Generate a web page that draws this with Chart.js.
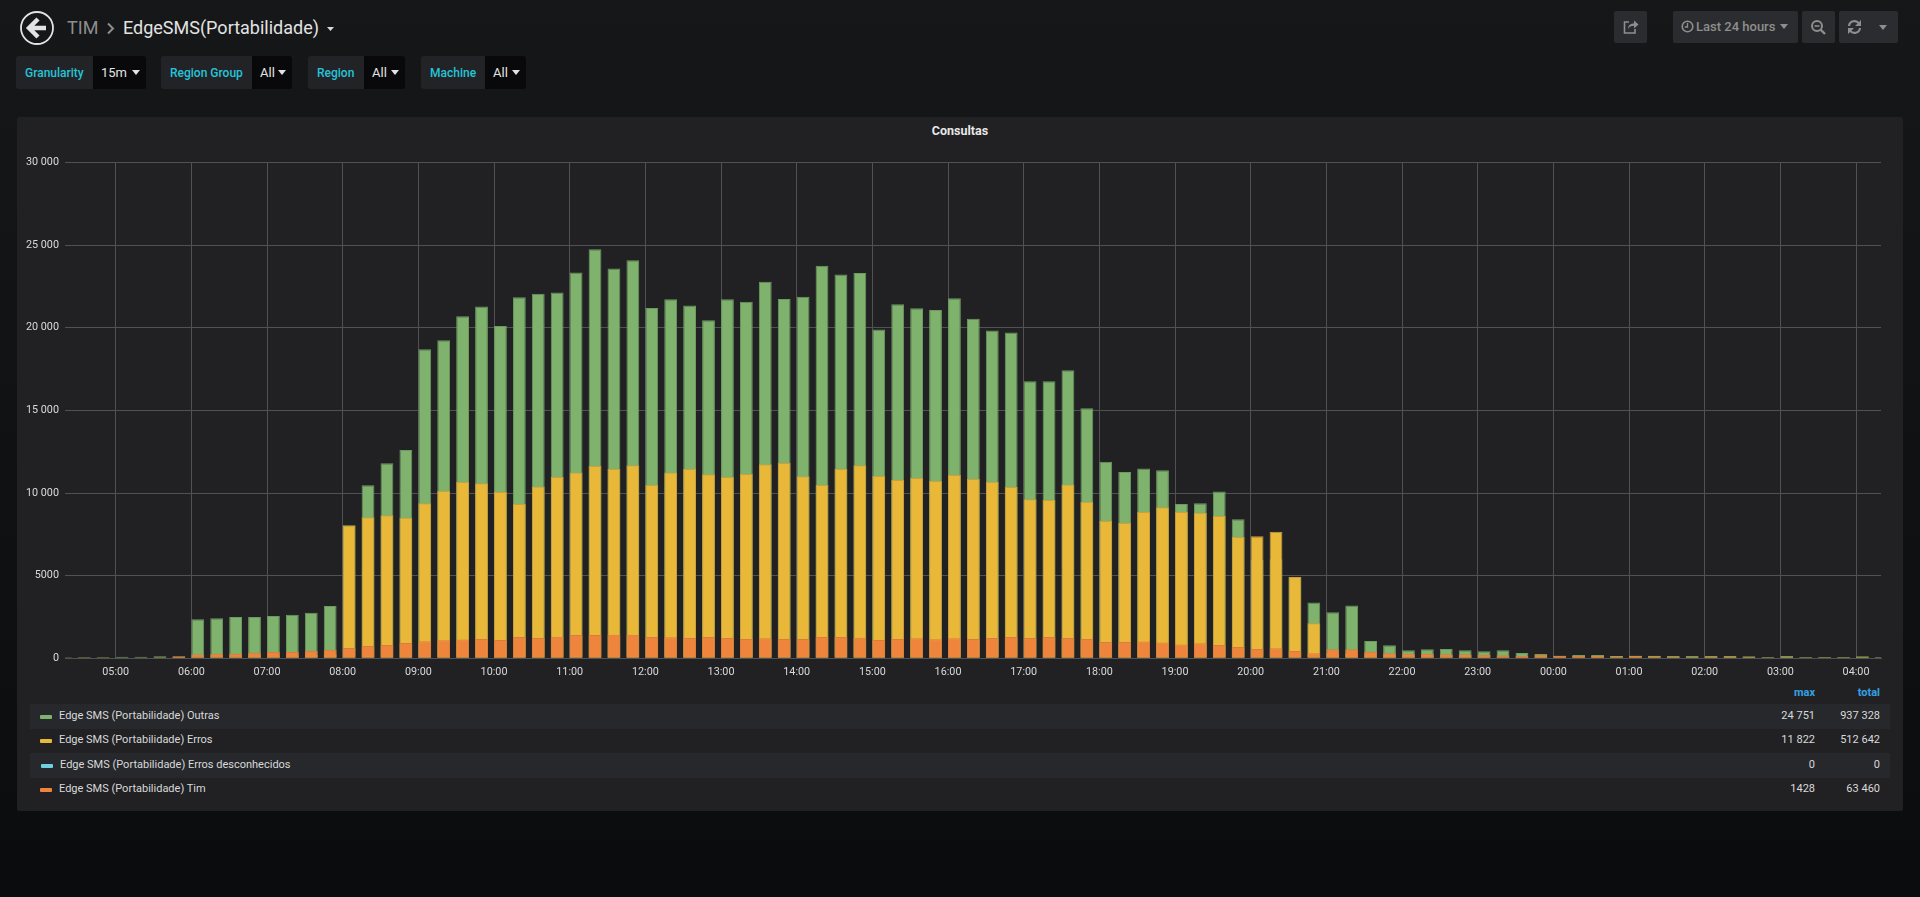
<!DOCTYPE html>
<html>
<head>
<meta charset="utf-8">
<title>EdgeSMS(Portabilidade)</title>
<script src="https://cdn.jsdelivr.net/npm/chart.js@4"></script>
<style>
html, body { margin: 0; height: 100%; overflow: hidden; }
body { position: relative; width: 1920px; height: 897px; background: linear-gradient(#161719, #0b0c0e); font-family: Roboto, sans-serif; color: #d8d9da; }
.abs { position: absolute; white-space: nowrap; }
.crumb { top: 16px; font-size: 18px; line-height: 24px; }
.btn { position: absolute; top: 11px; height: 32px; background: #2b2c2f; border-radius: 2px; }
.btn svg { position: absolute; }
.var { position: absolute; top: 56px; height: 33px; display: flex; font-size: 12px; line-height: 34px; border-radius: 3px; overflow: hidden; }
.var b { font-weight: 500; color: #27c4d8; background: #212327; padding-left: 9px; box-sizing: border-box; }
.var span { flex: 1; background: #09090b; color: #e3e3e3; padding-left: 8px; position: relative; font-size: 13px; }
.var span::after { content: ""; position: absolute; right: 6px; top: 14px; border: 4px solid transparent; border-top: 5px solid #e3e3e3; }
#panel { position: absolute; left: 17px; top: 117px; width: 1886px; height: 694px; background: #212124; border-radius: 2px; }
#panelTitle { position: absolute; left: 0; top: 6px; width: 1886px; text-align: center; font-size: 12.5px; font-weight: 700; line-height: 16px; color: #e8e8e8; }
#wrap { position: absolute; left: 0; top: 0; width: 1886px; height: 568px; }
.row { position: absolute; left: 13px; width: 1860px; height: 24.5px; font-size: 11px; line-height: 24px; }
.row.odd { background: #27282b; }
.row i { position: absolute; left: 10px; top: 11px; width: 12px; height: 4px; border-radius: 1px; }
.row .name { position: absolute; left: 29px; }
.row .max { position: absolute; right: 75px; }
.row .total { position: absolute; right: 10px; }
.lhead { font-size: 11px; font-weight: 700; color: #33a2e5; }
</style>
</head>
<body>
<svg class="abs" style="left:19px;top:11px" width="36" height="34" viewBox="0 0 36 34">
  <circle cx="18" cy="17" r="16" fill="none" stroke="#e3e3e3" stroke-width="1.8"/>
  <path d="M19 8 L10 17 L19 26 M11 17 H27" fill="none" stroke="#e3e3e3" stroke-width="4.4"/>
</svg>
<div class="abs crumb" style="left:67px;color:#8e8e8e">TIM</div>
<svg class="abs" style="left:106px;top:22px" width="9" height="13" viewBox="0 0 9 13"><path d="M2 1.5 L7 6.5 L2 11.5" fill="none" stroke="#8e8e8e" stroke-width="2"/></svg>
<div class="abs crumb" style="left:123px;color:#e3e3e3">EdgeSMS(Portabilidade)</div>
<svg class="abs" style="left:327px;top:27px" width="8" height="5"><path d="M0 0 H7 L3.5 4 Z" fill="#d8d9da"/></svg>

<div class="btn" style="left:1614px;width:33px">
  <svg style="left:9px;top:8px" width="16" height="16" viewBox="0 0 16 16"><path d="M6 3 H1.5 V14 H12 V10" fill="none" stroke="#8e8e8e" stroke-width="1.6"/><path d="M5 10 C5 6 8 4.5 11 4.5 V1.5 L15.5 5.5 L11 9.5 V6.8 C8 6.8 6 8 5 10 Z" fill="#8e8e8e"/></svg>
</div>
<div class="btn" style="left:1673px;width:125px;color:#8e8e8e;font-size:13px;font-weight:500;line-height:32px">
  <svg style="left:8px;top:9px" width="13" height="13" viewBox="0 0 13 13"><circle cx="6.5" cy="6.5" r="5.3" fill="none" stroke="#8e8e8e" stroke-width="1.6"/><path d="M6.5 3 V7 H3.8" fill="none" stroke="#8e8e8e" stroke-width="1.3"/></svg>
  <span style="position:absolute;left:23px">Last 24 hours</span>
  <svg style="left:107px;top:13px" width="9" height="6"><path d="M0 0 H8 L4 5 Z" fill="#8e8e8e"/></svg>
</div>
<div class="btn" style="left:1802px;width:33px">
  <svg style="left:8px;top:8px" width="17" height="17" viewBox="0 0 17 17"><circle cx="7" cy="7" r="5" fill="none" stroke="#8e8e8e" stroke-width="2"/><path d="M4.5 7 H9.5" stroke="#8e8e8e" stroke-width="1.6"/><path d="M10.5 10.5 L15 15" stroke="#8e8e8e" stroke-width="2.4"/></svg>
</div>
<div class="btn" style="left:1839px;width:59px">
  <svg style="left:8px;top:8px" width="15" height="16" viewBox="0 0 15 16"><path d="M2 7 A5.5 5.5 0 0 1 12 4.5 M13 9 A5.5 5.5 0 0 1 3 11.5" fill="none" stroke="#8e8e8e" stroke-width="2.2"/><path d="M14 1 V7 H8 Z M1 15 V9 H7 Z" fill="#8e8e8e"/></svg>
  <svg style="left:40px;top:14px" width="9" height="6"><path d="M0 0 H8 L4 5 Z" fill="#8e8e8e"/></svg>
</div>

<div id="vars"></div>

<div id="panel">
  <div id="panelTitle">Consultas</div>
  <div id="wrap"><canvas id="consultas"></canvas></div>
  <div id="legend"></div>
</div>

<script>
// 15 minute slots, last 24 hours
const slotLabels = [
    "04:15","04:30","04:45",
    "05:00","05:15","05:30","05:45","06:00","06:15","06:30","06:45",
    "07:00","07:15","07:30","07:45","08:00","08:15","08:30","08:45",
    "09:00","09:15","09:30","09:45","10:00","10:15","10:30","10:45",
    "11:00","11:15","11:30","11:45","12:00","12:15","12:30","12:45",
    "13:00","13:15","13:30","13:45","14:00","14:15","14:30","14:45",
    "15:00","15:15","15:30","15:45","16:00","16:15","16:30","16:45",
    "17:00","17:15","17:30","17:45","18:00","18:15","18:30","18:45",
    "19:00","19:15","19:30","19:45","20:00","20:15","20:30","20:45",
    "21:00","21:15","21:30","21:45","22:00","22:15","22:30","22:45",
    "23:00","23:15","23:30","23:45","00:00","00:15","00:30","00:45",
    "01:00","01:15","01:30","01:45","02:00","02:15","02:30","02:45",
    "03:00","03:15","03:30","03:45","04:00","04:15"
];

const outras = [
    60,70,70,
    100,90,120,110,2360,2420,2500,2500,
    2560,2640,2760,3170,8050,10470,11800,12600,
    18700,19240,20690,21280,20110,21840,22060,22130,
    23340,24751,23580,24080,21200,21720,21340,20450,
    21720,21580,22790,21740,21880,23760,23220,23320,
    19890,21420,21180,21080,21780,20550,19830,19710,
    16760,16760,17430,15130,11900,11275,11480,11380,
    9340,9380,10100,8410,5950,5990,4900,3370,
    2780,3190,1050,790,480,545,565,480,
    420,480,320,260,160,200,200,140,
    160,160,140,140,140,140,120,80,
    140,80,80,80,120,80
];
const erros = [
    50,60,60,
    50,50,60,90,120,130,130,160,
    180,180,210,250,8030,8530,8650,8510,
    9380,10125,10670,10590,10065,9340,10390,10970,
    11250,11640,11460,11680,10490,11250,11460,11130,
    10970,11150,11740,11822,11010,10490,11460,11680,
    11030,10790,10910,10730,11090,10850,10690,10370,
    9620,9580,10510,9480,8310,8190,8850,9140,
    8850,8810,8610,7340,7380,7660,4920,2120,
    300,300,200,150,130,130,120,120,
    100,90,90,100,150,160,150,120,
    150,120,110,90,110,110,100,70,
    100,70,70,70,90,50
];
const errosDesconhecidos = [
    0,0,0,
    0,0,0,0,0,0,0,0,
    0,0,0,0,0,0,0,0,
    0,0,0,0,0,0,0,0,
    0,0,0,0,0,0,0,0,
    0,0,0,0,0,0,0,0,
    0,0,0,0,0,0,0,0,
    0,0,0,0,0,0,0,0,
    0,0,0,0,0,0,0,0,
    0,0,0,0,0,0,0,0,
    0,0,0,0,0,0,0,0,
    0,0,0,0,0,0,0,0,
    0,0,0,0,0,0
];
const tim = [
    30,40,40,
    40,40,50,120,240,280,280,340,
    380,380,440,520,625,750,800,930,
    1030,1090,1130,1170,1110,1290,1230,1310,
    1410,1410,1420,1428,1290,1270,1230,1290,
    1230,1170,1210,1170,1170,1290,1290,1250,
    1110,1170,1210,1150,1210,1170,1230,1290,
    1230,1290,1230,1170,990,990,1010,950,
    830,910,810,690,565,605,440,300,
    545,545,400,300,280,280,240,240,
    200,180,160,200,140,140,120,100,
    120,80,80,60,80,80,60,40,
    60,40,50,50,40,30
];

const hourTicks = [
    "05:00","06:00","07:00","08:00","09:00","10:00","11:00","12:00",
    "13:00","14:00","15:00","16:00","17:00","18:00","19:00","20:00",
    "21:00","22:00","23:00","00:00","01:00","02:00","03:00","04:00"
];
const yTicks = [0, 5000, 10000, 15000, 20000, 25000, 30000];
const yTickLabels = ["0", "5000", "10 000", "15 000", "20 000", "25 000", "30 000"];

const legendNames = [
    "Edge SMS (Portabilidade) Outras",
    "Edge SMS (Portabilidade) Erros",
    "Edge SMS (Portabilidade) Erros desconhecidos",
    "Edge SMS (Portabilidade) Tim"
];
const legendMax = ["24 751", "11 822", "0", "1428"];
const legendTotal = ["937 328", "512 642", "0", "63 460"];
const legendColors = ["#7eb26d", "#eab839", "#6ed0e0", "#ef843c"];
const borderColors = ["#6d9a62", "#c9a03a", "#6ed0e0", "#d97c3d"];

const varNames = ["Granularity", "Region Group", "Region", "Machine"];
const varValues = ["15m", "All", "All", "All"];
const varBoxes = [[16, 130, 77], [161, 131, 91], [308, 97, 56], [421, 105, 64]];

// template variables row
const varsEl = document.getElementById("vars");
varNames.forEach((name, i) => {
    const box = varBoxes[i];
    const el = document.createElement("div");
    el.className = "var";
    el.style.left = box[0] + "px";
    el.style.width = box[1] + "px";
    el.innerHTML = `<b style="width:${box[2]}px">${name}</b><span>${varValues[i]}</span>`;
    varsEl.appendChild(el);
});

// legend table under the graph
const legendEl = document.getElementById("legend");
legendEl.innerHTML = `<div class="abs lhead" style="top:569px;right:88px">max</div><div class="abs lhead" style="top:569px;right:23px">total</div>`;
legendNames.forEach((name, i) => {
    const row = document.createElement("div");
    row.className = "row" + (i % 2 === 0 ? " odd" : "");
    row.style.top = [587, 611, 636, 660][i] + "px";
    const nudge = i === 2 ? 1 : 0;
    row.innerHTML = `<i style="background:${legendColors[i]};left:${10 + nudge}px"></i>` +
        `<span class="name" style="left:${29 + nudge}px">${name}</span>` +
        `<span class="max">${legendMax[i]}</span><span class="total">${legendTotal[i]}</span>`;
    legendEl.appendChild(row);
});

function toMinutes(label) {
    const parts = label.split(":");
    return Number(parts[0]) * 60 + Number(parts[1]);
}

// times after midnight belong to the next day
const DAY = 1440;
function unwrap(label) {
    const m = toMinutes(label);
    return m < 255 ? m + DAY : m;
}
const slotMinutes = slotLabels.map((label, i) => (i > 0 && label === "04:15") ? toMinutes(label) + DAY : unwrap(label));
const hourMinutes = hourTicks.map(unwrap);

// bars start at their timestamp, grafana style, chart.js centres them
const BAR_SHARE = 0.677;
const barOffset = 15 * BAR_SHARE / 2;
const points = values => values.map((v, i) => ({x: slotMinutes[i] + barOffset, y: v}));

function barSet(name, values, idx, order) {
    return {
        label: name,
        data: points(values),
        backgroundColor: legendColors[idx],
        borderColor: borderColors[idx],
        borderWidth: values === errosDesconhecidos ? 0 : 1,
        borderSkipped: false,
        inflateAmount: 0,
        grouped: false,
        barPercentage: BAR_SHARE,
        categoryPercentage: 1,
        order: order
    };
}

Chart.defaults.font.family = "Roboto, sans-serif";
Chart.defaults.font.size = 10.8;
Chart.defaults.color = "#d8d9da";

const ctx = document.getElementById("consultas").getContext("2d");
window.consultasChart = new Chart(ctx, {
    type: "bar",
    data: {
        datasets: [
            barSet(legendNames[3], tim, 3, 0),
            barSet(legendNames[2], errosDesconhecidos, 2, 1),
            barSet(legendNames[1], erros, 1, 2),
            barSet(legendNames[0], outras, 0, 3)
        ]
    },
    options: {
        responsive: true,
        maintainAspectRatio: false,
        animation: false,
        layout: {padding: {left: 0, right: 22, top: 45.5, bottom: 0}},
        plugins: {
            legend: {display: false},
            tooltip: {enabled: false}
        },
        scales: {
            x: {
                type: "linear",
                offset: false,
                min: 259.8,
                max: 1699.8,
                grid: {color: "#515154", drawTicks: false, lineWidth: 1, offset: false},
                border: {color: "#515154"},
                ticks: {
                    padding: 8,
                    maxRotation: 0,
                    autoSkip: false,
                    callback: v => hourTicks[hourMinutes.indexOf(v)]
                },
                afterBuildTicks: axis => { axis.ticks = hourMinutes.map(v => ({value: v})); },
                afterFit: axis => { axis.height = 26.7; }
            },
            y: {
                min: 0,
                max: 30000,
                grid: {color: "#515154", drawTicks: false, lineWidth: 1},
                border: {display: false},
                ticks: {
                    padding: 6,
                    callback: v => yTickLabels[yTicks.indexOf(v)]
                },
                afterBuildTicks: axis => { axis.ticks = yTicks.map(v => ({value: v})); },
                afterFit: axis => { axis.width = 48; }
            }
        }
    }
});
</script>
</body>
</html>
